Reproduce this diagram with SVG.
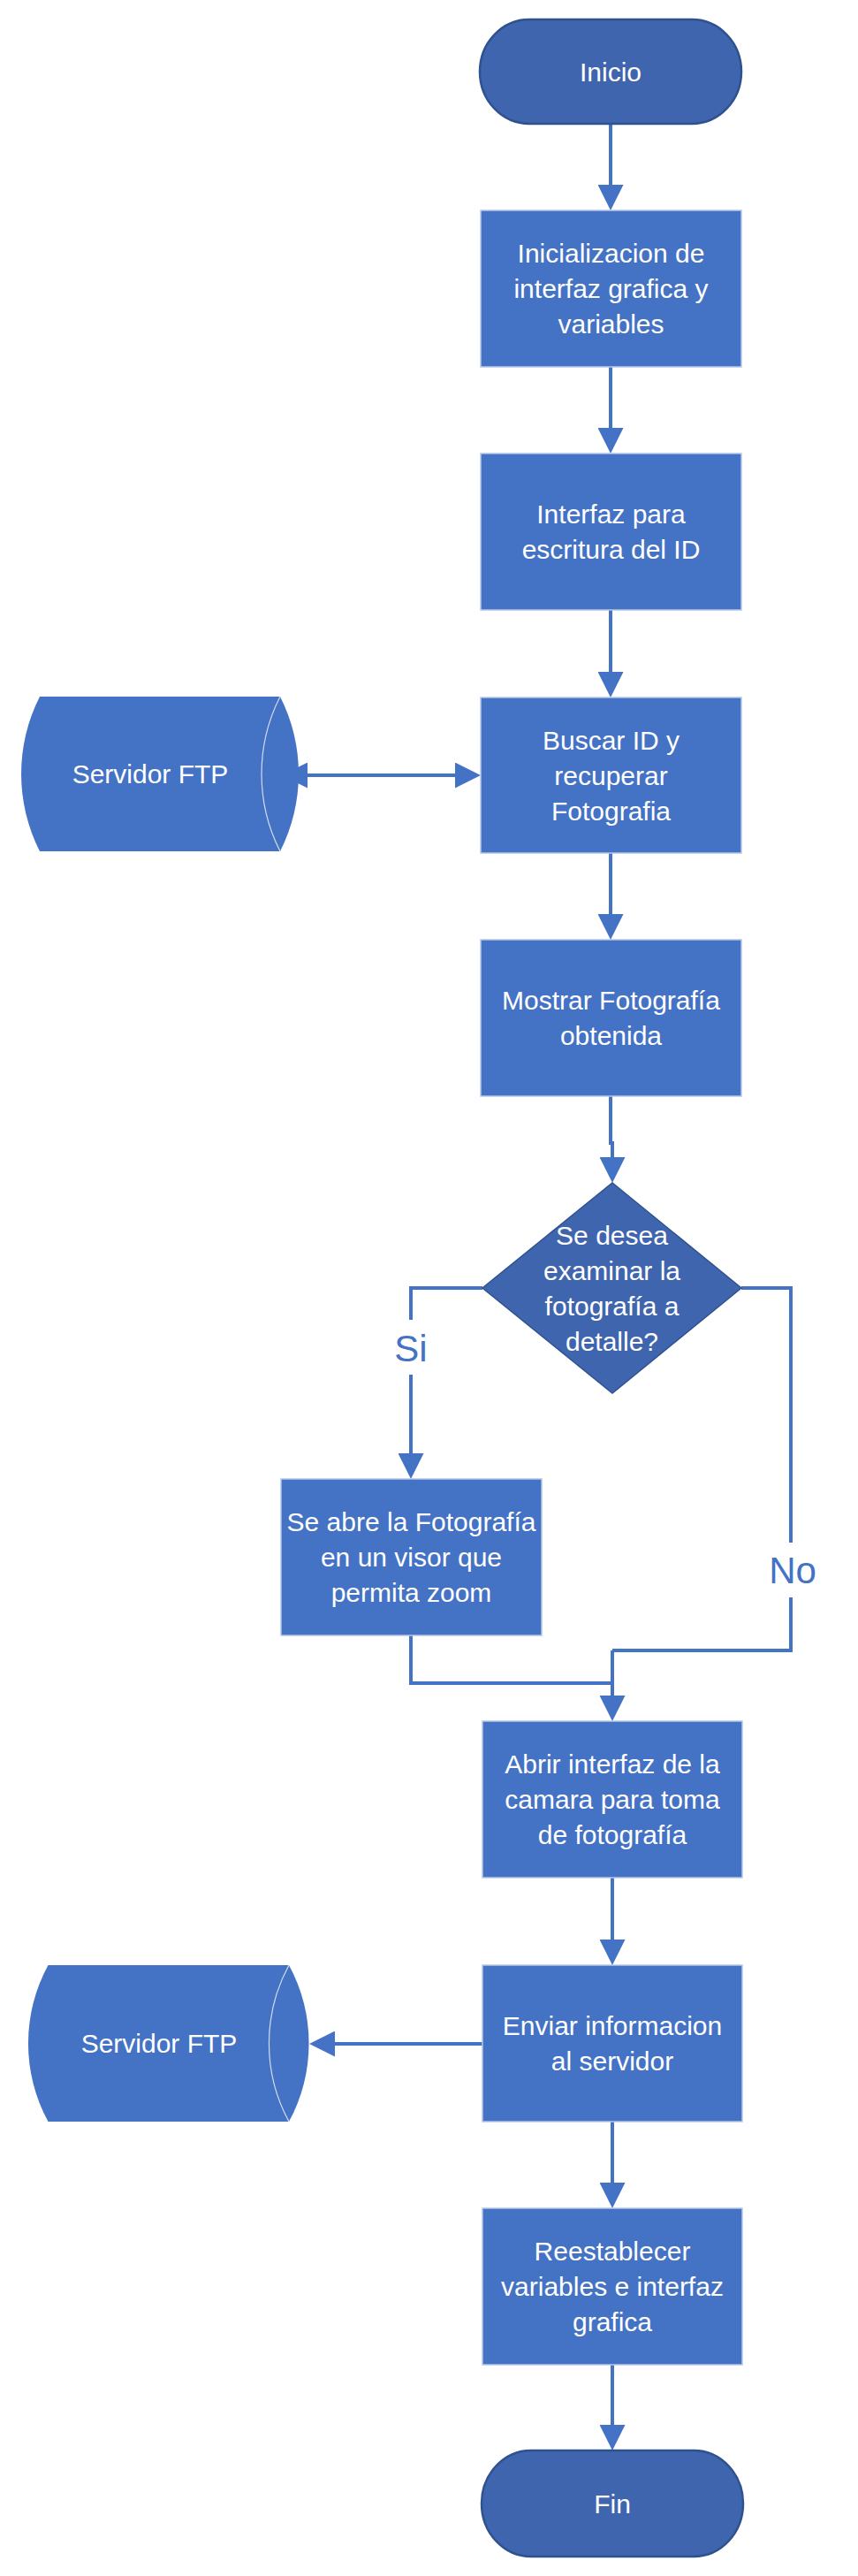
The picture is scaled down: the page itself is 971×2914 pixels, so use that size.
<svg xmlns="http://www.w3.org/2000/svg" width="971" height="2914" viewBox="0 0 971 2914">
<style>
.proc{fill:#4472C4;stroke:#B4C7E7;stroke-width:1.5}
.term{fill:#3F65AE;stroke:#2F528F;stroke-width:2.5}
.dec{fill:#3F65AE;stroke:#2F528F;stroke-width:1.5}
.cyl{fill:#4472C4;stroke:none}
.inner{fill:none;stroke:#D3DCF0;stroke-width:1.2}
.t{font-family:"Liberation Sans",Arial,sans-serif;font-size:30px;fill:#FFFFFF;text-anchor:middle}
.lbl{font-family:"Liberation Sans",Arial,sans-serif;font-size:42px;fill:#4472C4;text-anchor:middle}
.c{fill:none;stroke:#4472C4;stroke-width:4}
.a{marker-end:url(#ah)}
</style>
<defs>
<marker id="ah" markerUnits="userSpaceOnUse" markerWidth="29" markerHeight="29" refX="19" refY="14.5" orient="auto-start-reverse">
<path d="M0 0 L29 14.5 L0 29 Z" fill="#4472C4"/>
</marker>
</defs>
<rect width="971" height="2914" fill="#FFFFFF"/>
<g id="connectors">
<path class="c a" d="M691 140 V228"/>
<path class="c a" d="M691 415 V503"/>
<path class="c a" d="M691 690 V779"/>
<path class="c a" d="M329 877 H534" style="marker-start:url(#ah)"/>
<path class="c a" d="M691 965 V1053"/>
<path class="c a" d="M691 1240 V1293 H693 V1328"/>
<path class="c" d="M546 1457 H465 V1493"/>
<path class="c a" d="M465 1555 V1663"/>
<path class="c" d="M839 1457 H895 V1745"/>
<path class="c" d="M895 1807 V1867 H693"/>
<path class="c" d="M465 1850 V1904 H693"/>
<path class="c a" d="M693 1867 V1937"/>
<path class="c a" d="M693 2124 V2213"/>
<path class="c a" d="M546 2312 H360"/>
<path class="c a" d="M693 2400 V2488"/>
<path class="c a" d="M693 2675 V2762"/>
<text class="lbl" x="465" y="1540">Si</text>
<text class="lbl" x="897" y="1791">No</text>
</g>
<g id="inicio">
<rect class="term" x="543" y="22" width="296" height="118" rx="56" ry="59"/>
<text class="t" x="691" y="91.5">Inicio</text>
</g>
<g id="inicializacion">
<rect class="proc" x="544" y="238" width="295" height="177"/>
<text class="t" x="691.5" y="297">Inicializacion de</text>
<text class="t" x="691.5" y="337">interfaz grafica y</text>
<text class="t" x="691.5" y="377">variables</text>
</g>
<g id="interfaz-id">
<rect class="proc" x="544" y="513" width="295" height="177"/>
<text class="t" x="691.5" y="592">Interfaz para</text>
<text class="t" x="691.5" y="632">escritura del ID</text>
</g>
<g id="buscar">
<rect class="proc" x="544" y="789" width="295" height="176"/>
<text class="t" x="691.5" y="847.5">Buscar ID y</text>
<text class="t" x="691.5" y="887.5">recuperar</text>
<text class="t" x="691.5" y="927.5">Fotografia</text>
</g>
<g id="servidor1">
<path class="cyl" d="M45 788 H317 A193 193 0 0 1 317 963 H45 A193 193 0 0 1 45 788 Z"/>
<path class="inner" d="M317 788 A193 193 0 0 0 317 963"/>
<text class="t" x="170" y="886">Servidor FTP</text>
</g>
<g id="mostrar">
<rect class="proc" x="544" y="1063" width="295" height="177"/>
<text class="t" x="691.5" y="1142">Mostrar Fotografía</text>
<text class="t" x="691.5" y="1182">obtenida</text>
</g>
<g id="decision">
<path class="dec" d="M693 1338 L839 1457 L693 1576 L546 1457 Z"/>
<text class="t" x="692.5" y="1407.5">Se desea</text>
<text class="t" x="692.5" y="1447.5">examinar la</text>
<text class="t" x="692.5" y="1487.5">fotografía a</text>
<text class="t" x="692.5" y="1527.5">detalle?</text>
</g>
<g id="visor">
<rect class="proc" x="318" y="1673" width="295" height="177"/>
<text class="t" x="465.5" y="1732">Se abre la Fotografía</text>
<text class="t" x="465.5" y="1772">en un visor que</text>
<text class="t" x="465.5" y="1812">permita zoom</text>
</g>
<g id="camara">
<rect class="proc" x="546" y="1947" width="294" height="177"/>
<text class="t" x="693" y="2006">Abrir interfaz de la</text>
<text class="t" x="693" y="2046">camara para toma</text>
<text class="t" x="693" y="2086">de fotografía</text>
</g>
<g id="enviar">
<rect class="proc" x="546" y="2223" width="294" height="177"/>
<text class="t" x="693" y="2302">Enviar informacion</text>
<text class="t" x="693" y="2342">al servidor</text>
</g>
<g id="servidor2">
<path class="cyl" d="M54.5 2223 H327 A185 185 0 0 1 327 2400 H54.5 A185 185 0 0 1 54.5 2223 Z"/>
<path class="inner" d="M327 2223 A185 185 0 0 0 327 2400"/>
<text class="t" x="180" y="2322">Servidor FTP</text>
</g>
<g id="reestablecer">
<rect class="proc" x="546" y="2498" width="294" height="177"/>
<text class="t" x="693" y="2557">Reestablecer</text>
<text class="t" x="693" y="2597">variables e interfaz</text>
<text class="t" x="693" y="2637">grafica</text>
</g>
<g id="fin">
<rect class="term" x="545" y="2772" width="296" height="120" rx="56" ry="60"/>
<text class="t" x="693" y="2842.5">Fin</text>
</g>
</svg>
